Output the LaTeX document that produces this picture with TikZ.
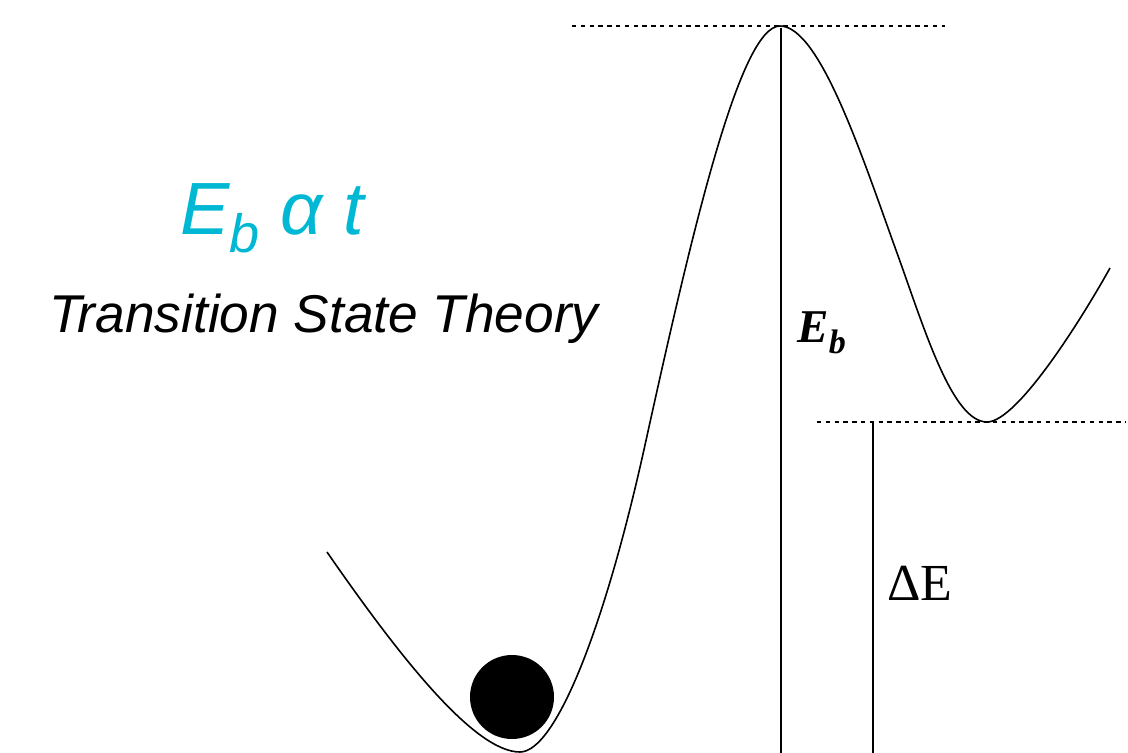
\documentclass[tikz,border=0pt]{standalone}
\usepackage{fontspec}
\setmainfont{Liberation Serif}
\setsansfont{Liberation Sans}
\usepackage{xcolor}
\definecolor{tstcyan}{RGB}{0,184,212}

\begin{document}
\begin{tikzpicture}[x=0.5pt, y=-0.5pt,
		curve/.style={line width=0.8pt, line join=round},
		level/.style={line width=0.8pt, dash pattern=on 2.2pt off 2.2pt},
		gap/.style={line width=1pt}]
		
		% Frame of the picture
		\useasboundingbox (0,0) rectangle (1128,753);
		
		% Coordinates for the key points of the energy profile
		\coordinate (Start) at (327, 552);   % left end of the curve
		\coordinate (Bot)   at (520, 752);   % initial state
		\coordinate (Left)  at (645, 445);   % left flank
		\coordinate (Peak)  at (780, 26);    % transition state
		\coordinate (Right) at (897, 253);   % right flank
		\coordinate (Min)   at (987, 422);   % final state
		\coordinate (End)   at (1110, 268);  % right end of the curve
		\coordinate (PeakL) at (572, 26);    % left end of top level
		\coordinate (PeakR) at (945, 26);    % right end of top level
		\coordinate (MinL)  at (817, 422);   % left end of final level
		\coordinate (MinR)  at (1126, 422);  % right end of final level
		\coordinate (EbTop) at (781, 28);
		\coordinate (EbBot) at (781, 753);
		\coordinate (DeTop) at (873, 422);
		\coordinate (DeBot) at (873, 753);
		
		% Dotted energy levels
		\draw[level] (PeakL) -- (PeakR);
		\draw[level] (MinL) -- (MinR);
		
		% Potential energy curve
		\draw[curve] (Start) .. controls (401,659) and (475,752) .. (Bot)
			.. controls (555,752) and (604.1,630.6) .. (Left)
			.. controls (692.3,230.1) and (740,26) .. (Peak)
			.. controls (820,26) and (863,159) .. (Right)
			.. controls (924.2,328.2) and (952,422) .. (Min)
			.. controls (1017,422) and (1080.8,320.4) .. (End);
		
		% Barrier height and energy difference
		\draw[gap] (EbTop) -- (EbBot);
		\draw[gap] (DeTop) -- (DeBot);
		\node[anchor=base west, inner sep=0pt, font=\fontsize{23.5}{24}\selectfont] (Eb) at (797,343)
			{\textbf{\textit{E}}\raisebox{-5.5pt}{\fontsize{17}{17}\selectfont\textbf{\textit{b}}}};
		\node[anchor=base west, inner sep=0pt, font=\fontsize{26}{26}\selectfont] (dE) at (887,600) {ΔE};
		
		% The ball sitting in the well
		\fill (512,697) circle[radius=42];
		
		% Titles
		\node[anchor=base west, inner sep=0pt, text=tstcyan,
			font=\sffamily\itshape\fontsize{37}{37}\selectfont] (rate) at (180,235)
			{E\raisebox{-9pt}{\fontsize{27}{27}\selectfont b} α t};
		\node[anchor=base west, inner sep=0pt,
			font=\sffamily\itshape\fontsize{26.6}{27}\selectfont] (tst) at (49,332)
			{Transition State Theory};
		
	\end{tikzpicture}
\end{document}
